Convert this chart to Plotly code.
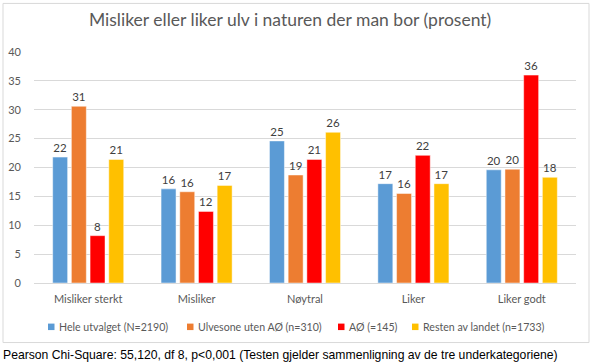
import plotly.graph_objects as go

categories = ["Misliker sterkt", "Misliker", "Nøytral", "Liker", "Liker godt"]
series_names = ["Hele utvalget (N=2190)", "Ulvesone uten AØ (n=310)", "AØ (=145)", "Resten av landet (n=1733)"]
hele = [21.8, 16.3, 24.6, 17.2, 19.6]
ulvesone = [30.6, 15.8, 18.7, 15.5, 19.7]
ao = [8.2, 12.4, 21.4, 22.1, 36.0]
resten = [21.4, 16.9, 26.1, 17.2, 18.3]
labels_hele = ["22", "16", "25", "17", "20"]
labels_ulvesone = ["31", "16", "19", "16", "20"]
labels_ao = ["8", "12", "21", "22", "36"]
labels_resten = ["21", "17", "26", "17", "18"]
colors = ["#5B9BD5", "#ED7D31", "#FF0000", "#FFC000"]

FONT = "Lato, 'Open Sans', sans-serif"
TXT = "#595959"
fig = go.Figure()
for name, vals, labs, col in zip(series_names, [hele, ulvesone, ao, resten],
                                 [labels_hele, labels_ulvesone, labels_ao, labels_resten], colors):
    fig.add_trace(go.Bar(
        x=categories, y=vals, name=name, text=labs, textposition="outside",
        textfont=dict(size=11.5, color="#404040", family=FONT),
        marker=dict(color=col, line=dict(width=0.8, color="rgba(255,255,255,0.6)")),
        cliponaxis=False, showlegend=False,
    ))

L, R = 34, 576
T, B = 51.7, 283.3
W, H = 592, 362
pw, ph = R - L, B - T

def px(x):
    return (x - L) / pw

def py(y):
    return (B - y) / ph

# manual legend (Excel-style compact legend)
leg_sq_x = [48, 187, 338, 412]
leg_txt_x = [57, 196, 347, 421]
leg_y = 327
shapes = [dict(type="rect", xref="paper", yref="paper",
               x0=px(3), x1=px(589), y0=py(343), y1=py(3),
               line=dict(color="#D9D9D9", width=1), layer="below")]
annotations = []
for name, col, sx, tx in zip(series_names, colors, leg_sq_x, leg_txt_x):
    shapes.append(dict(type="rect", xref="paper", yref="paper",
                       x0=px(sx), x1=px(sx + 6.5), y0=py(leg_y + 3.5), y1=py(leg_y - 3),
                       fillcolor=col, line=dict(width=0)))
    annotations.append(dict(text=name, xref="paper", yref="paper", x=px(tx), y=py(leg_y),
                            xanchor="left", yanchor="middle", showarrow=False,
                            font=dict(size=10.6, color=TXT, family=FONT)))
annotations.append(dict(text="Pearson Chi-Square: 55,120, df 8, p<0,001 (Testen gjelder sammenligning av de tre underkategoriene)",
                        xref="paper", yref="paper", x=px(1), y=py(355), xanchor="left", yanchor="middle",
                        showarrow=False, font=dict(size=12.2, color="#000000", family="Liberation Sans, Arial")))

fig.update_layout(
    width=W, height=H,
    margin=dict(l=L, r=W - R, t=T, b=H - B, autoexpand=False),
    paper_bgcolor="white", plot_bgcolor="white",
    barmode="group", bargap=0.31, bargroupgap=0.2,
    title=dict(text="Misliker eller liker ulv i naturen der man bor (prosent)",
               x=0.49, xanchor="center", y=1 - 20 / H, yanchor="middle",
               font=dict(size=17.5, color=TXT, family=FONT)),
    font=dict(family=FONT, color=TXT),
    showlegend=False,
    xaxis=dict(showgrid=False, showline=False, ticks="", tickfont=dict(size=11, color=TXT),
               ticklabelstandoff=8),
    yaxis=dict(range=[0, 40], dtick=5, showgrid=True, gridcolor="#D9D9D9", gridwidth=1,
               zeroline=True, zerolinecolor="#D9D9D9", zerolinewidth=1,
               showline=False, ticks="", tickfont=dict(size=11, color=TXT),
               ticklabelstandoff=12),
    shapes=shapes,
    annotations=annotations,
)

fig.write_html("out.html", config={"displayModeBar": False},
               post_script="document.body.style.margin='0';")
